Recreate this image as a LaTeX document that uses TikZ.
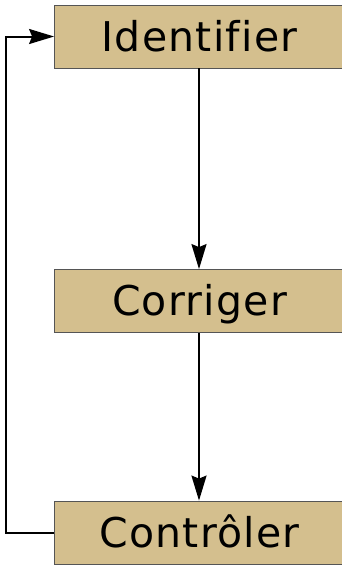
\documentclass[tikz,border=0pt]{standalone}
\usepackage{fontspec}
\setmainfont{DejaVu Sans}[LetterSpace=3, Ligatures={NoCommon}]
\usetikzlibrary{arrows.meta,positioning}
\definecolor{boxtan}{HTML}{D4BF8E}
\definecolor{boxline}{HTML}{555555}
\begin{document}
\begin{tikzpicture}[x=1pt, y=-1pt, >={Stealth[length=25pt,width=15pt,inset=3pt]}, line width=2pt,
   stage/.style={rectangle, draw=boxline, line width=0.8pt, fill=boxtan, minimum width=290pt, minimum height=63pt,
                 inner sep=0pt, text height=29.9pt, text depth=0pt, font=\fontsize{41}{48}\selectfont}]
   \useasboundingbox (0,0) rectangle (341,566);

   %steps
   \node[stage] (idf) at (199.5,36.5) {Identifier};
   \node[stage] (cor) at (199.5,301) {Corriger};
   \node[stage] (ctl) at (199.5,532.5) {Contr\^oler};

  \path[->]
    (idf.south -| 199,0) edge node {} (cor.north -| 199,0)
    (cor.south -| 199,0) edge node {} (ctl.north -| 199,0);

    %retour
  \draw[->] (ctl.west) -- ++(-48.5,0) |- (idf.west);
\end{tikzpicture}
\end{document}
